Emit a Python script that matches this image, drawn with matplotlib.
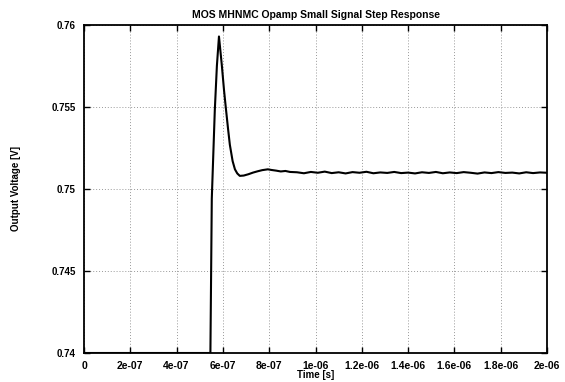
import matplotlib
matplotlib.use("Agg")
import matplotlib.pyplot as plt
import numpy as np

title = "MOS MHNMC Opamp Small Signal Step Response"
xlabel = "Time [s]"
ylabel = "Output Voltage [V]"

# time in units of 1e-7 s
t_e7 = [0.0, 2.0, 4.0, 5.0, 5.46, 5.52, 5.65, 5.74, 5.83, 5.95, 6.05, 6.13, 6.22, 6.30, 6.42, 6.52, 6.62, 6.73,
        6.9, 7.1, 7.3, 7.5, 7.7, 7.94, 8.1, 8.3, 8.5, 8.7, 8.9, 9.2,
        9.5, 9.8, 10.1, 10.4, 10.7, 11.0, 11.3, 11.6, 11.9, 12.2, 12.5, 12.8, 13.1, 13.4, 13.7,
        14.0, 14.3, 14.6, 14.9, 15.2, 15.5, 15.8, 16.1, 16.4, 16.7, 17.0, 17.3, 17.6, 17.9,
        18.2, 18.5, 18.8, 19.1, 19.4, 19.7, 20.0]
volts = [0.7400, 0.7400, 0.7400, 0.7400, 0.7400, 0.7494, 0.7548, 0.7575, 0.7593, 0.7576, 0.7560, 0.7549, 0.7537,
         0.7527, 0.7517, 0.7512, 0.75095, 0.75080,
         0.75082, 0.75090, 0.75100, 0.75108, 0.75115, 0.75120, 0.75116, 0.75112, 0.75107, 0.75110, 0.75104, 0.75102,
         0.75096, 0.75104, 0.75099, 0.75106, 0.75097, 0.75102, 0.75095, 0.75103, 0.75099, 0.75105, 0.75096,
         0.75101, 0.75098, 0.75104, 0.75097, 0.75100, 0.75095, 0.75102, 0.75098, 0.75104, 0.75096, 0.75101,
         0.75097, 0.75103, 0.75099, 0.75094, 0.75101, 0.75097, 0.75103, 0.75098, 0.75100, 0.75095, 0.75102,
         0.75097, 0.75101, 0.75099]

xticks_e7 = [0, 2, 4, 6, 8, 10, 12, 14, 16, 18, 20]
xtick_labels = ["0", "2e-07", "4e-07", "6e-07", "8e-07", "1e-06", "1.2e-06", "1.4e-06", "1.6e-06", "1.8e-06", "2e-06"]
yticks = [0.74, 0.745, 0.75, 0.755, 0.76]
ytick_labels = ["0.74", "0.745", "0.75", "0.755", "0.76"]

plt.rcParams['font.family'] = ['Liberation Sans', 'DejaVu Sans']

fig = plt.figure(figsize=(5.65, 3.82), dpi=100)
ax = fig.add_axes([84/565, 1-353/382, (547-84)/565, (353-25)/382])

t = np.array(t_e7) * 1e-7
ax.plot(t, volts, color="black", linewidth=1.5)

ax.set_xlim(0, 2e-6)
ax.set_ylim(0.74, 0.76)
ax.set_xticks(np.array(xticks_e7) * 1e-7)
ax.set_xticklabels(xtick_labels)
ax.set_yticks(yticks)
ax.set_yticklabels(ytick_labels)

ax.grid(True, linestyle=(0, (1, 2)), color="#999999", linewidth=0.7)
ax.tick_params(direction="in", top=True, right=True, length=4, width=1, labelsize=7, pad=6)
ax.tick_params(axis="x", labelsize=7.5)
for lab in ax.get_xticklabels() + ax.get_yticklabels():
    lab.set_fontweight("bold")
for s in ax.spines.values():
    s.set_linewidth(1.3)

ax.set_title(title, fontsize=7.5, fontweight="bold", pad=5)
ax.set_xlabel(xlabel, fontsize=7, fontweight="bold", labelpad=-1)
ax.set_ylabel(ylabel, fontsize=7, fontweight="bold", labelpad=22)

fig.savefig("out.png", dpi=100)
